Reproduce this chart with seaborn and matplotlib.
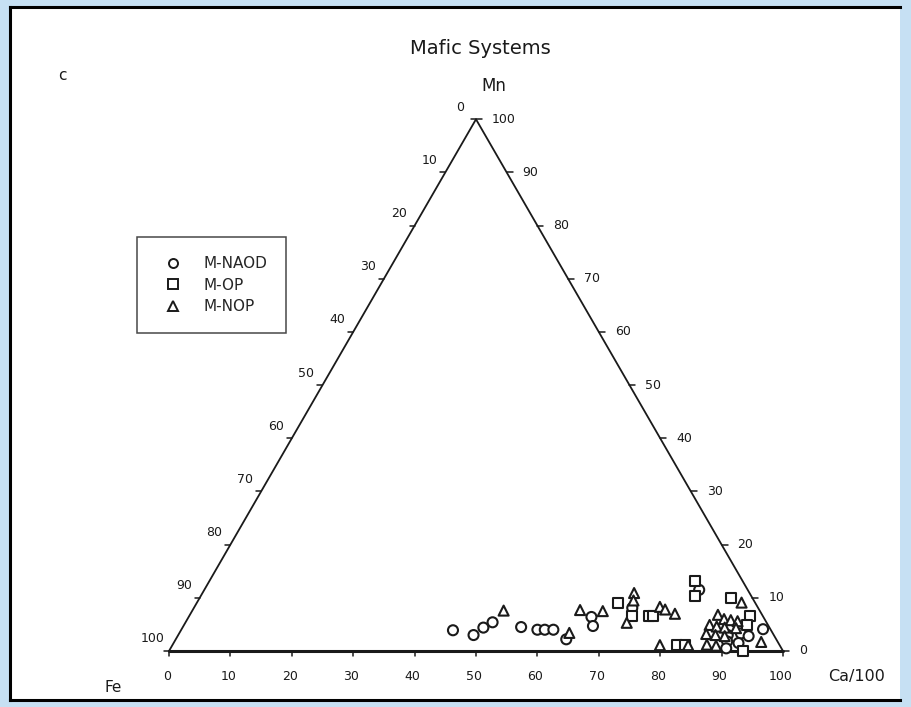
import numpy as np
import pandas as pd
import matplotlib
matplotlib.use("Agg")
import matplotlib.pyplot as plt
from matplotlib.lines import Line2D
import seaborn as sns

# ---- compositions (Ca/100, Mn, remainder Fe), in percent ----
naod_ca = [44.3, 48.1, 49.0, 50.0, 55.1, 58.0, 59.2, 60.6, 63.6, 65.6, 66.7, 71.4, 80.6, 94.7,
           89.5, 91.5, 90.0, 92.0, 93.0, 90.5]
naod_mn = [3.9, 3.0, 4.4, 5.4, 4.5, 4.0, 4.0, 4.0, 2.2, 6.4, 4.7, 8.1, 11.5, 4.1,
           3.0, 3.3, 1.8, 1.5, 2.8, 0.5]

op_ca = [68.6, 72.1, 74.8, 75.5, 82.2, 83.5, 79.1, 80.5, 86.6, 91.3, 93.5, 91.8]
op_mn = [9.1, 6.6, 6.6, 6.6, 1.1, 1.1, 13.2, 10.3, 10.0, 6.6, 0.0, 4.8]

nop_ca = [50.7, 63.5, 63.1, 66.9, 70.3, 70.9, 71.9, 75.8, 76.9, 78.9, 79.4, 84.0, 88.7, 95.6,
          86.0, 87.4, 88.6, 89.8, 85.6, 86.9, 88.3, 90.2, 85.9, 87.5, 89.1, 87.0, 88.6]
nop_mn = [7.6, 3.4, 7.7, 7.5, 10.9, 9.5, 5.3, 8.3, 7.8, 7.0, 1.1, 1.1, 9.1, 1.7,
          6.8, 6.0, 5.8, 5.6, 4.9, 4.6, 4.4, 4.3, 3.2, 3.0, 2.8, 1.2, 1.0]

systems = ["M-NAOD", "M-OP", "M-NOP"]
markers = {"M-NAOD": "o", "M-OP": "s", "M-NOP": "^"}

edge_ticks = list(range(0, 101, 10))

title = "Mafic Systems"
panel_label = "c"
apex_label = "Mn"
left_label = "Fe"
right_label = "Ca/100"

# ---- layout ----
W, H = 912, 707
PX = 6.14           # pixels per composition unit
S3 = np.sqrt(3) / 2


def tern(ca, mn):
    ca = np.asarray(ca, float)
    mn = np.asarray(mn, float)
    return ca + mn / 2, mn * S3


def p(v):
    return v / PX


frame = pd.concat([
    pd.DataFrame({"Ca": naod_ca, "Mn": naod_mn, "System": "M-NAOD"}),
    pd.DataFrame({"Ca": op_ca, "Mn": op_mn, "System": "M-OP"}),
    pd.DataFrame({"Ca": nop_ca, "Mn": nop_mn, "System": "M-NOP"}),
], ignore_index=True)
frame["x"], frame["y"] = tern(frame["Ca"], frame["Mn"])

sns.set_theme(style="white")
plt.rcParams["font.family"] = ["DejaVu Sans"]

fig = plt.figure(figsize=(W / 100, H / 100), dpi=100, facecolor="#c6e0f3")
ax = fig.add_axes([10 / W, 7 / H, 890 / W, 693 / H])
ax.set_facecolor("white")
ax.set_xlim(p(10 - 169), p(900 - 169))
ax.set_ylim(p(651 - 700), p(651 - 7))
ax.set_xticks([])
ax.set_yticks([])
for side in ["left", "top", "bottom"]:
    ax.spines[side].set_color("black")
    ax.spines[side].set_linewidth(2.2)
ax.spines["right"].set_visible(False)

ink = "#1a1a1a"

# triangle sides
fx, fy = tern(0, 0)
cx, cy = tern(100, 0)
mx, my = tern(0, 100)
ax.plot([fx, mx, cx], [fy, my, cy], color=ink, lw=1.3, solid_joinstyle="miter", zorder=2)
ax.plot([fx, cx], [fy, cy], color=ink, lw=2.2, zorder=2)

# bottom (Ca) ticks and labels
for k in edge_ticks:
    x, y = tern(k, 0)
    ax.plot([x, x], [y, y - p(5)], color=ink, lw=1.1)
    ax.text(x - p(2), y - p(25), str(k), ha="center", va="center", fontsize=9, color=ink)

# left (Fe) ticks and labels
for k in edge_ticks:
    x, y = tern(0, 100 - k)
    ax.plot([x, x - p(5)], [y, y], color=ink, lw=1.1)
    ax.text(x - p(16), y + p(12), str(k), ha="center", va="center", fontsize=9, color=ink)

# right (Mn) ticks and labels
for k in edge_ticks:
    x, y = tern(100 - k, k)
    ax.plot([x, x + p(6)], [y, y], color=ink, lw=1.1)
    ax.text(x + p(16), y, str(k), ha="left", va="center", fontsize=9, color=ink)

# data points
sns.scatterplot(data=frame, x="x", y="y", style="System", markers=markers,
                color="white", edgecolor=ink, linewidth=1.5, s=52,
                legend=False, ax=ax, zorder=3, clip_on=False)

handles = [Line2D([], [], marker=markers[s], ls="none", mfc="white", mec=ink,
                  mew=1.4, ms=6.5) for s in systems]
leg = ax.legend(handles, systems, loc="upper left",
                bbox_to_anchor=(137 / W, 1 - 237 / H), bbox_transform=fig.transFigure,
                frameon=True, fancybox=False, edgecolor=ink, fontsize=11,
                borderpad=1.25, labelspacing=0.42, handletextpad=0.9, handlelength=2.2,
                borderaxespad=0)
leg.get_frame().set_linewidth(1.1)

# texts
fig.text(480 / W, 1 - 48 / H, title, ha="center", va="center", fontsize=14, color=ink)
fig.text(62 / W, 1 - 75 / H, panel_label, ha="center", va="center", fontsize=11, color=ink)
fig.text(494 / W, 1 - 86 / H, apex_label, ha="center", va="center", fontsize=12, color=ink)
fig.text(113 / W, 1 - 688 / H, left_label, ha="center", va="center", fontsize=11, color=ink)
fig.text(857 / W, 1 - 676 / H, right_label, ha="center", va="center", fontsize=11.5, color=ink)

fig.savefig("out.png", dpi=100, facecolor=fig.get_facecolor())
